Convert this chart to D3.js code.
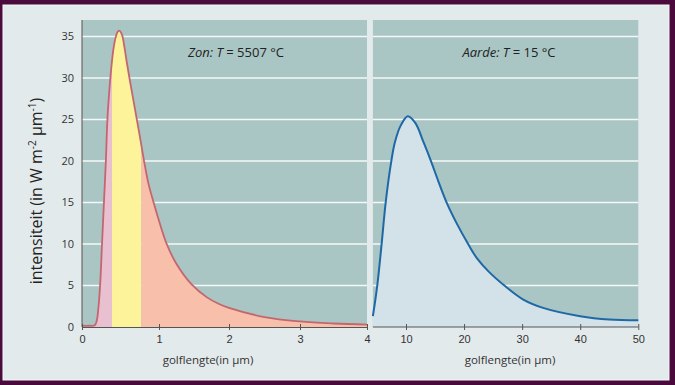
<!DOCTYPE html>
<html>
<head>
<meta charset="utf-8">
<script src="https://cdn.jsdelivr.net/npm/d3@7"></script>
<style>
  body { margin: 0; background: #4a0b3c; }
  svg { display: block; font-family: "Open Sans", sans-serif; }
</style>
</head>
<body>
<div id="chart"></div>
<script>
// values
var sunWave = [0, 0.1, 0.165, 0.19, 0.21, 0.235, 0.26, 0.285, 0.31, 0.33, 0.355, 0.38, 0.41, 0.44, 0.465, 0.49, 0.52, 0.55, 0.58, 0.62, 0.67, 0.72, 0.76, 0.806, 0.86, 0.93, 1.0, 1.11, 1.25, 1.47, 1.68, 1.85, 2.0, 2.5, 3.0, 3.5, 4.0];
var sunInt  = [0.15, 0.15, 0.2, 0.7, 2, 5, 10, 15, 20, 25, 28.5, 31.2, 33.6, 35, 35.6, 35.7, 35.2, 33.8, 32.0, 29.8, 27.2, 24.6, 22.5, 20, 17.4, 15, 12.8, 10, 7.6, 5.1, 3.6, 2.8, 2.3, 1.2, 0.67, 0.42, 0.28];

var earthWave = [4.3, 5.05, 5.8, 6.5, 7.47, 8.1, 9.1, 10.3, 11.6, 13.0, 14.3, 15.6, 17.0, 18.8, 20.7, 22.2, 24.2, 27.1, 30.2, 33.6, 40, 45, 50];
var earthInt  = [1.3, 5, 10, 15, 20, 22.3, 24.3, 25.4, 24.6, 22.3, 20, 17.5, 15, 12.4, 10, 8.3, 6.7, 4.9, 3.3, 2.3, 1.3, 0.9, 0.8];

var yTicks = [0, 5, 10, 15, 20, 25, 30, 35];
var sunTicks = [0, 1, 2, 3, 4];
var earthTicks = [10, 20, 30, 40, 50];
var bandEdges = [0.39, 0.77]; // uv | zichtbaar | ir

var width = 675, height = 385;

var svg = d3.select("#chart").append("svg")
    .attr("width", width)
    .attr("height", height);

// panel
svg.append("rect")
    .attr("x", 3).attr("y", 5)
    .attr("width", 666).attr("height", 375)
    .attr("fill", "#e3eaec")
    .attr("stroke", "#f4f7f8").attr("stroke-width", 1);

var plotTop = 20, plotBottom = 327;

var y = d3.scaleLinear().domain([0, 37]).range([plotBottom, plotTop]);
// the printed axis is not evenly spaced
var xL = d3.scaleLinear().domain([0, 1, 2, 3, 4]).range([82, 159, 229, 300, 367]);
var xR = d3.scaleLinear().domain([10, 50]).range([406, 638.3]);
var xRstart = 4.3;

var curve = d3.curveCatmullRom.alpha(0.5);

// plot backgrounds
svg.append("rect")
    .attr("x", xL(0)).attr("y", plotTop)
    .attr("width", xL(4) - xL(0)).attr("height", plotBottom - plotTop)
    .attr("fill", "#a9c6c4");
svg.append("rect")
    .attr("x", xR(xRstart)).attr("y", plotTop)
    .attr("width", xR(50) - xR(xRstart)).attr("height", plotBottom - plotTop)
    .attr("fill", "#a9c6c4");

// grid
function grid(x0, x1) {
  svg.append("g").selectAll("line")
    .data(yTicks.slice(1))
    .enter().append("line")
      .attr("x1", x0).attr("x2", x1)
      .attr("y1", function(d) { return y(d); })
      .attr("y2", function(d) { return y(d); })
      .attr("stroke", "#f4f8f8")
      .attr("stroke-width", 1.5);
}
grid(xL(0), xL(4));
grid(xR(xRstart), xR(50));

// sun
var sun = sunWave.map(function(d, i) { return {w: d, v: sunInt[i]}; });

var areaL = d3.area()
    .x(function(d) { return xL(d.w); })
    .y0(y(0))
    .y1(function(d) { return y(d.v); })
    .curve(curve);

var lineL = d3.line()
    .x(function(d) { return xL(d.w); })
    .y(function(d) { return y(d.v); })
    .curve(curve);

var bands = [
  {from: 0, to: bandEdges[0], color: "#e8c0d0"},
  {from: bandEdges[0], to: bandEdges[1], color: "#fdf39b"},
  {from: bandEdges[1], to: 4, color: "#f8c0aa"}
];

var defs = svg.append("defs");
bands.forEach(function(b, i) {
  defs.append("clipPath").attr("id", "band" + i)
    .append("rect")
      .attr("x", xL(b.from)).attr("y", plotTop)
      .attr("width", xL(b.to) - xL(b.from))
      .attr("height", plotBottom - plotTop);
  svg.append("path")
      .datum(sun)
      .attr("clip-path", "url(#band" + i + ")")
      .attr("fill", b.color)
      .attr("d", areaL);
});

svg.append("path")
    .datum(sun)
    .attr("fill", "none")
    .attr("stroke", "#c4666f")
    .attr("stroke-width", 1.8)
    .attr("d", lineL);

// earth
var earth = earthWave.map(function(d, i) { return {w: d, v: earthInt[i]}; });

svg.append("path")
    .datum(earth)
    .attr("fill", "#d3e1e8")
    .attr("d", d3.area()
      .x(function(d) { return xR(d.w); })
      .y0(y(0))
      .y1(function(d) { return y(d.v); })
      .curve(curve));

svg.append("path")
    .datum(earth)
    .attr("fill", "none")
    .attr("stroke", "#1e68a6")
    .attr("stroke-width", 2)
    .attr("d", d3.line()
      .x(function(d) { return xR(d.w); })
      .y(function(d) { return y(d.v); })
      .curve(curve));

// axes
function styleAxis(g) {
  g.select(".domain").attr("stroke", "#555").attr("stroke-width", 1);
  g.selectAll(".tick line").attr("stroke", "#555").attr("y1", -3);
  g.selectAll(".tick text")
    .attr("fill", "#333")
    .style("font-size", "11px")
    .attr("dy", "0.95em");
}

svg.append("g")
    .attr("transform", "translate(0," + plotBottom + ")")
    .call(d3.axisBottom(xL).tickValues(sunTicks).tickFormat(d3.format("d")).tickSize(3).tickSizeOuter(0))
    .call(styleAxis);

svg.append("g")
    .attr("transform", "translate(0," + plotBottom + ")")
    .call(d3.axisBottom(xR).tickValues(earthTicks).tickFormat(d3.format("d")).tickSize(3).tickSizeOuter(0))
    .call(styleAxis)
    .call(function(g) {
      g.select(".domain").attr("d", "M" + xR(xRstart) + ",0H" + xR(50));
    });

svg.append("line")
    .attr("x1", xL(0)).attr("x2", xL(0))
    .attr("y1", plotTop).attr("y2", plotBottom)
    .attr("stroke", "#555");

svg.append("g").selectAll("text")
    .data(yTicks)
    .enter().append("text")
      .attr("x", 74)
      .attr("y", function(d) { return y(d); })
      .attr("dy", "0.35em")
      .attr("text-anchor", "end")
      .attr("fill", "#333")
      .style("font-size", "11px")
      .text(function(d) { return d; });

// labels
svg.append("text")
    .attr("x", 208).attr("y", 364)
    .attr("text-anchor", "middle")
    .attr("fill", "#333")
    .style("font-size", "11.5px")
    .text("golflengte(in μm)");

svg.append("text")
    .attr("x", 510).attr("y", 364)
    .attr("text-anchor", "middle")
    .attr("fill", "#333")
    .style("font-size", "11.5px")
    .text("golflengte(in μm)");

var yl = svg.append("text")
    .attr("transform", "translate(42,191) rotate(-90)")
    .attr("text-anchor", "middle")
    .attr("fill", "#222")
    .style("font-size", "16px");
yl.append("tspan").text("intensiteit (in W m");
yl.append("tspan").attr("dy", -6).style("font-size", "10px").text("-2");
yl.append("tspan").attr("dy", 6).text(" μm");
yl.append("tspan").attr("dy", -6).style("font-size", "10px").text("-1");
yl.append("tspan").attr("dy", 6).text(")");

function title(x, name, temp) {
  var t = svg.append("text")
      .attr("x", x).attr("y", 57)
      .attr("text-anchor", "middle")
      .attr("fill", "#222")
      .style("font-size", "13px")
      .style("font-style", "italic");
  t.append("tspan").text(name + ": ");
  t.append("tspan").text("T");
  t.append("tspan").style("font-style", "normal").text(" = " + temp + " °C");
}
title(236, "Zon", "5507");
title(509, "Aarde", "15");
</script>
</body>
</html>
